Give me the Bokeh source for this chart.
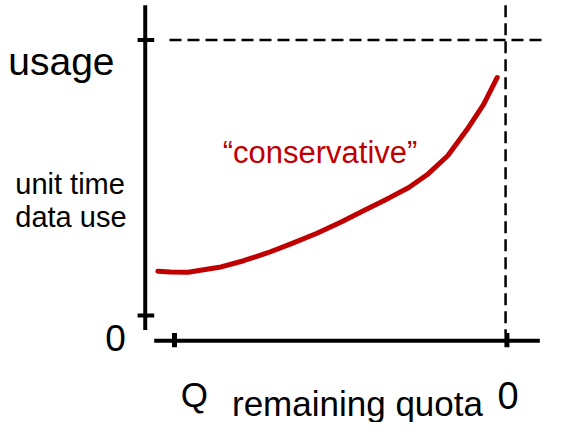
from bokeh.plotting import figure
from bokeh.models import Range1d
from bokeh.core.properties import value
from bokeh.embed import file_html
from bokeh.resources import INLINE

# ---- data (remaining quota: Q = 100 ... 0 ; usage: 0 ... 100 = "usage" level) ----
remaining = [105.0, 101.2, 95.9, 86.5, 79.2, 71.9, 64.6, 57.3, 50.0, 42.7, 35.4,
             29.5, 23.7, 17.8, 12.0, 7.0, 2.9]
usage = [16.1, 15.8, 15.7, 17.5, 19.9, 22.8, 26.2, 29.8, 33.9, 38.3, 42.7,
         46.5, 51.4, 58.0, 67.5, 76.6, 86.4]

Q_VALUE = 100.0        # remaining quota at "Q"
ZERO_QUOTA = 0.0       # remaining quota at "0"
USAGE_LEVEL = 100.0    # "usage" level
ZERO_USAGE = 0.0

curve_label = "\u201cconservative\u201d"
y_labels = ["usage", "unit time", "data use", "0"]
x_labels = ["Q", "remaining quota", "0"]

RED = "#c00000"
FONT = "Liberation Sans"

W, H = 555, 422
Y0, Y1 = -38.81, 114.34
p = figure(width=W, height=H,
           x_range=Range1d(152.34, -14.62), y_range=Range1d(Y0, Y1),
           x_axis_location=None, y_axis_location=None,
           output_backend="svg", toolbar_location=None, min_border=0)
p.grid.visible = False
p.outline_line_color = None
p.background_fill_color = "white"
p.border_fill_color = "white"
PX_PER_UNIT = H / (Y1 - Y0)

# axis lines (diagram frame)
y_axis_x = 108.8
x_axis_y = -9.1
p.segment(x0=[y_axis_x], y0=[112.6], x1=[y_axis_x], y1=[-5.2],
          line_color="black", line_width=4)
p.segment(x0=[106.1], y0=[x_axis_y], x1=[-9.9], y1=[x_axis_y],
          line_color="black", line_width=4)

# y ticks
p.segment(x0=[111.1, 111.1], y0=[ZERO_USAGE, USAGE_LEVEL],
          x1=[106.1, 106.1], y1=[ZERO_USAGE, USAGE_LEVEL],
          line_color="black", line_width=4)
# x ticks
p.segment(x0=[Q_VALUE, ZERO_QUOTA], y0=[-6.3, -6.3],
          x1=[Q_VALUE, ZERO_QUOTA], y1=[-11.5, -11.5],
          line_color="black", line_width=5)

# dashed guides
p.segment(x0=[101.5], y0=[USAGE_LEVEL], x1=[-10.5], y1=[USAGE_LEVEL],
          line_color="black", line_width=2.5, line_dash="12 6")
p.segment(x0=[ZERO_QUOTA + 0.4], y0=[112.6], x1=[ZERO_QUOTA + 0.4], y1=[-6.3],
          line_color="black", line_width=2.5, line_dash="12 6")

# curve
p.line(remaining, usage, line_color=RED, line_width=5,
       line_join="round", line_cap="round")

# labels (y given at the alphabetic baseline; small correction for renderer offset)
def txt(x, y, s, size, color="black"):
    y_corr = y + 0.33 * size / PX_PER_UNIT
    p.text(x=[x], y=[y_corr], text=[s], text_font=value(FONT),
           text_font_size=f"{size}px", text_color=color,
           text_align="left", text_baseline="alphabetic")

txt(150.0, 87.4, y_labels[0], 39)
txt(147.9, 44.4, y_labels[1], 29)
txt(147.9, 32.2, y_labels[2], 29)
txt(120.8, -12.6, y_labels[3], 37)
txt(85.5, 55.6, curve_label, 31, RED)
txt(98.1, -32.9, x_labels[0], 35)
txt(82.7, -36.0, x_labels[1], 35)
txt(2.8, -33.6, x_labels[2], 38)

open("out.html", "w").write(file_html(p, INLINE))
